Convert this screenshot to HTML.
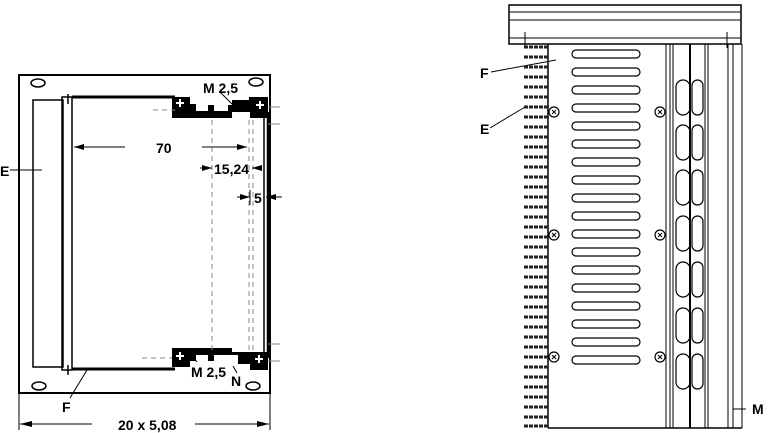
<!DOCTYPE html>
<html><head><meta charset="utf-8"><style>
html,body{margin:0;padding:0;background:#fff;}
svg{display:block;font-family:"Liberation Sans",sans-serif;font-weight:bold;}
</style></head><body>
<svg width="768" height="433" viewBox="0 0 768 433" xmlns="http://www.w3.org/2000/svg">
<g fill="none" stroke="#000" stroke-width="1.5">
<rect x="19" y="75" width="251" height="318" stroke-width="2"/>
<ellipse cx="38" cy="83" rx="7" ry="4"/>
<ellipse cx="256" cy="82" rx="7" ry="4"/>
<ellipse cx="39" cy="386" rx="7" ry="4"/>
<ellipse cx="253" cy="386" rx="7" ry="4"/>
<rect x="33" y="100" width="30" height="267"/>
<rect x="62" y="97" width="10" height="273"/>
<line x1="72" y1="97" x2="175" y2="97" stroke-width="3"/>
<line x1="72" y1="369" x2="175" y2="369" stroke-width="3"/>
<line x1="68" y1="94" x2="68" y2="104"/>
<line x1="68" y1="365" x2="68" y2="375"/>
<line x1="264" y1="112" x2="264" y2="358"/>
<line x1="268" y1="112" x2="268" y2="358" stroke-width="2.5"/>
</g>
<g fill="#000">
<path d="M172 97 H190 V104 H196 V111 H208 V105 H214 V111 H228 V105 H232 V100 H249 V97 H268 V118 H250 V112 H232 V118 H172 Z"/>
<path d="M172 348 H232 V352 H250 V352 H268 V370 H250 V364 H238 V355 H214 V361 H208 V355 H196 V361 H190 V367 H172 Z"/>
</g>
<g fill="#fff">
<rect x="176" y="102" width="8" height="2"/><rect x="179" y="99" width="2" height="8"/>
<rect x="256" y="104" width="8" height="2"/><rect x="259" y="101" width="2" height="8"/>
<rect x="176" y="355" width="8" height="2"/><rect x="179" y="352" width="2" height="8"/>
<rect x="255" y="358" width="8" height="2"/><rect x="258" y="355" width="2" height="8"/>
</g>
<g stroke="#888" stroke-width="1" stroke-dasharray="5,4" fill="none">
<line x1="212" y1="120" x2="212" y2="350"/>
<line x1="249" y1="120" x2="249" y2="350"/>
<line x1="253" y1="120" x2="253" y2="350"/>
<line x1="153" y1="110" x2="175" y2="110"/>
<line x1="142" y1="358" x2="172" y2="358"/>
</g>
<g stroke="#888" stroke-width="1">
<line x1="268" y1="107" x2="280" y2="107"/><line x1="268" y1="124" x2="280" y2="124"/>
<line x1="268" y1="344" x2="280" y2="344"/><line x1="268" y1="361" x2="280" y2="361"/>
</g>
<g stroke="#000" stroke-width="1" fill="none">
<line x1="74" y1="147" x2="125" y2="147"/><line x1="202" y1="147" x2="247" y2="147"/>
<line x1="200" y1="168" x2="212" y2="168"/><line x1="252" y1="168" x2="262" y2="168"/>
<line x1="237" y1="197" x2="250" y2="197"/><line x1="266" y1="197" x2="282" y2="197"/>
<line x1="250" y1="190" x2="250" y2="205"/>
<line x1="20" y1="424" x2="92" y2="424"/><line x1="195" y1="424" x2="269" y2="424"/>
<line x1="19" y1="393" x2="19" y2="430"/><line x1="270" y1="393" x2="270" y2="430"/>
<line x1="10" y1="170" x2="42" y2="170"/>
<line x1="70" y1="398" x2="87" y2="370"/>
<line x1="220" y1="92" x2="240" y2="112"/>
<line x1="190" y1="353" x2="197" y2="362"/>
<line x1="233" y1="366" x2="237" y2="373"/>
</g>
<g fill="#000">
<path d="M74 147 L84 144 L84 150Z"/><path d="M247 147 L237 144 L237 150Z"/>
<path d="M212 168 L202 165 L202 171Z"/><path d="M252 168 L262 165 L262 171Z"/>
<path d="M250 197 L240 194 L240 200Z"/><path d="M266 197 L276 194 L276 200Z"/>
<path d="M20 424 L32 421 L32 427Z"/><path d="M269 424 L257 421 L257 427Z"/>
</g>
<g font-size="14" fill="#000">
<text x="156" y="153">70</text>
<text x="214" y="174">15,24</text>
<text x="254" y="203">5</text>
<text x="203" y="93">M 2,5</text>
<text x="191" y="377">M 2,5</text>
<text x="231" y="386">N</text>
<text x="0" y="176">E</text>
<text x="62" y="412">F</text>
<text x="118" y="430">20 x 5,08</text>
<text x="480" y="78">F</text>
<text x="480" y="134">E</text>
<text x="752" y="414">M</text>
</g>
<g fill="none" stroke="#000" stroke-width="1">
<rect x="509" y="5" width="232" height="39" stroke-width="1.5"/>
<line x1="509" y1="12" x2="741" y2="12"/>
<line x1="509" y1="20" x2="741" y2="20"/>
<line x1="509" y1="38" x2="741" y2="38"/>
<line x1="525" y1="32" x2="525" y2="48"/>
<line x1="727" y1="32" x2="727" y2="48"/>
<line x1="548" y1="44" x2="548" y2="428" stroke-width="1.5"/>
<line x1="548" y1="428" x2="742" y2="428" stroke-width="1.5"/>
<line x1="742" y1="44" x2="742" y2="428"/>
<line x1="666" y1="44" x2="666" y2="428"/>
<line x1="670" y1="44" x2="670" y2="428"/>
<line x1="673" y1="44" x2="673" y2="428"/>
<line x1="690" y1="44" x2="690" y2="428" stroke-width="2"/>
<line x1="705" y1="44" x2="705" y2="428"/>
<line x1="708" y1="44" x2="708" y2="428"/>
<line x1="728" y1="44" x2="728" y2="428"/>
<line x1="733" y1="44" x2="733" y2="428"/>
<line x1="733" y1="409" x2="746" y2="409"/>
<line x1="491" y1="72" x2="556" y2="60"/>
<line x1="490" y1="128" x2="525" y2="107"/>
</g>
<g fill="none" stroke="#000" stroke-width="1.2">
<rect x="572" y="50" width="68" height="8" rx="4"/>
<rect x="572" y="68" width="68" height="8" rx="4"/>
<rect x="572" y="86" width="68" height="8" rx="4"/>
<rect x="572" y="104" width="68" height="8" rx="4"/>
<rect x="572" y="122" width="68" height="8" rx="4"/>
<rect x="572" y="140" width="68" height="8" rx="4"/>
<rect x="572" y="158" width="68" height="8" rx="4"/>
<rect x="572" y="176" width="68" height="8" rx="4"/>
<rect x="572" y="194" width="68" height="8" rx="4"/>
<rect x="572" y="212" width="68" height="8" rx="4"/>
<rect x="572" y="230" width="68" height="8" rx="4"/>
<rect x="572" y="248" width="68" height="8" rx="4"/>
<rect x="572" y="266" width="68" height="8" rx="4"/>
<rect x="572" y="284" width="68" height="8" rx="4"/>
<rect x="572" y="302" width="68" height="8" rx="4"/>
<rect x="572" y="320" width="68" height="8" rx="4"/>
<rect x="572" y="338" width="68" height="8" rx="4"/>
<rect x="572" y="356" width="68" height="8" rx="4"/>
<rect x="676" y="80" width="14" height="35" rx="7"/><rect x="692" y="80" width="11" height="35" rx="5.5"/>
<rect x="676" y="125" width="14" height="35" rx="7"/><rect x="692" y="125" width="11" height="35" rx="5.5"/>
<rect x="676" y="170" width="14" height="35" rx="7"/><rect x="692" y="170" width="11" height="35" rx="5.5"/>
<rect x="676" y="216" width="14" height="35" rx="7"/><rect x="692" y="216" width="11" height="35" rx="5.5"/>
<rect x="676" y="262" width="14" height="35" rx="7"/><rect x="692" y="262" width="11" height="35" rx="5.5"/>
<rect x="676" y="308" width="14" height="35" rx="7"/><rect x="692" y="308" width="11" height="35" rx="5.5"/>
<rect x="676" y="354" width="14" height="35" rx="7"/><rect x="692" y="354" width="11" height="35" rx="5.5"/>
<circle cx="554" cy="112" r="5"/><circle cx="660" cy="112" r="5"/>
<circle cx="554" cy="235" r="5"/><circle cx="660" cy="235" r="5"/>
<circle cx="554" cy="357" r="5"/><circle cx="660" cy="357" r="5"/>
</g>
<g stroke="#000" stroke-width="1">
<path d="M552 110 l4 4 m0 -4 l-4 4 M658 110 l4 4 m0 -4 l-4 4 M552 233 l4 4 m0 -4 l-4 4 M658 233 l4 4 m0 -4 l-4 4 M552 355 l4 4 m0 -4 l-4 4 M658 355 l4 4 m0 -4 l-4 4"/>
</g>
<g stroke="#222" stroke-width="3" stroke-dasharray="4,1">
<line x1="524" y1="47" x2="548" y2="47"/><line x1="524" y1="57" x2="548" y2="57"/><line x1="524" y1="67" x2="548" y2="67"/><line x1="524" y1="77" x2="548" y2="77"/><line x1="524" y1="87" x2="548" y2="87"/><line x1="524" y1="97" x2="548" y2="97"/><line x1="524" y1="107" x2="548" y2="107"/><line x1="524" y1="117" x2="548" y2="117"/><line x1="524" y1="127" x2="548" y2="127"/><line x1="524" y1="137" x2="548" y2="137"/><line x1="524" y1="147" x2="548" y2="147"/><line x1="524" y1="157" x2="548" y2="157"/><line x1="524" y1="167" x2="548" y2="167"/><line x1="524" y1="177" x2="548" y2="177"/><line x1="524" y1="187" x2="548" y2="187"/><line x1="524" y1="197" x2="548" y2="197"/><line x1="524" y1="207" x2="548" y2="207"/><line x1="524" y1="217" x2="548" y2="217"/><line x1="524" y1="227" x2="548" y2="227"/><line x1="524" y1="237" x2="548" y2="237"/><line x1="524" y1="247" x2="548" y2="247"/><line x1="524" y1="257" x2="548" y2="257"/><line x1="524" y1="267" x2="548" y2="267"/><line x1="524" y1="277" x2="548" y2="277"/><line x1="524" y1="287" x2="548" y2="287"/><line x1="524" y1="297" x2="548" y2="297"/><line x1="524" y1="307" x2="548" y2="307"/><line x1="524" y1="317" x2="548" y2="317"/><line x1="524" y1="327" x2="548" y2="327"/><line x1="524" y1="337" x2="548" y2="337"/><line x1="524" y1="347" x2="548" y2="347"/><line x1="524" y1="357" x2="548" y2="357"/><line x1="524" y1="367" x2="548" y2="367"/><line x1="524" y1="377" x2="548" y2="377"/><line x1="524" y1="387" x2="548" y2="387"/><line x1="524" y1="397" x2="548" y2="397"/><line x1="524" y1="407" x2="548" y2="407"/><line x1="524" y1="417" x2="548" y2="417"/><line x1="524" y1="426" x2="548" y2="426"/>
</g>
</svg>
</body></html>
